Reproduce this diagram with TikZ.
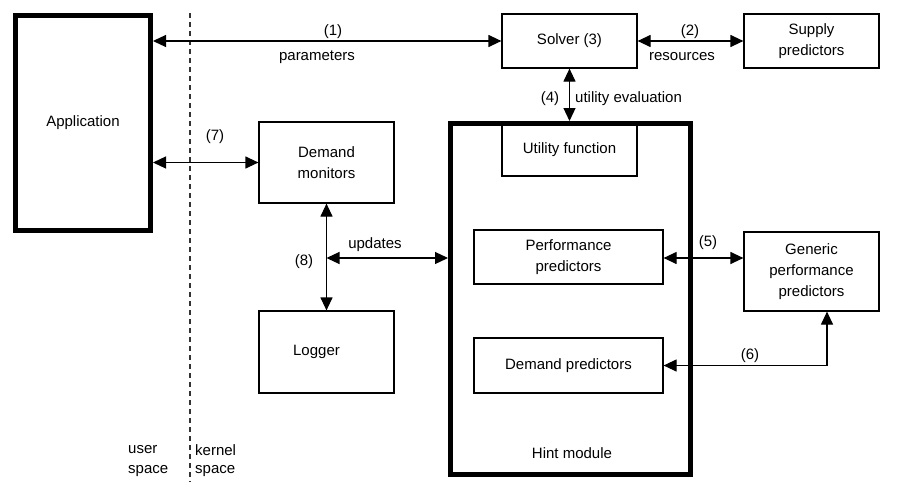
\documentclass[tikz,border=0pt]{standalone}
\usepackage{fontspec}
\setmainfont{Liberation Sans}
\usetikzlibrary{arrows.meta,calc}
\begin{document}
\begin{tikzpicture}[x=1pt,y=-1pt,
  font=\fontsize{15}{21}\selectfont,
  box/.style={draw=black,line width=1.2pt,rectangle,inner sep=0pt,align=center},
  bigbox/.style={draw=black,line width=5pt,rectangle,inner sep=0pt,align=center},
  link/.style={line width=1.2pt,{Triangle[length=13pt,width=12pt]}-{Triangle[length=13pt,width=12pt]}},
  lbl/.style={inner sep=0pt}]
\useasboundingbox (0,0) rectangle (897,482);

% user / kernel boundary
\draw[black!80,line width=1.2pt,dash pattern=on 5pt off 4pt] (190,13) -- (190,482);
\node[lbl,anchor=west] (u1) at (128,450) {user};
\node[lbl,anchor=west] (u2) at (128,471) {space};
\node[lbl,anchor=west] (k1) at (195,450) {kernel};
\node[lbl,anchor=west] (k2) at (195,471) {space};

% boxes
\node[bigbox,minimum width=135pt,minimum height=215pt] (app) at (83,123) {Application};
\node[box,minimum width=135pt,minimum height=54pt] (solver) at (569.5,41) {Solver (3)};
\node[box,minimum width=135pt,minimum height=54pt] (supply) at (811.5,41) {Supply\\predictors};
\node[box,minimum width=135pt,minimum height=81pt] (dm) at (326.5,162.5) {Demand\\monitors};
\node[box,minimum width=135pt,minimum height=82pt] (logger) at (326.5,352) {Logger\hspace*{20pt}};
\node[box,minimum width=135pt,minimum height=52pt] (util) at (569.5,150) {Utility function};
\node[bigbox,minimum width=240pt,minimum height=351pt] (hint) at (570.5,299) {};
\node[lbl] (hintlbl) at (572,453) {Hint module};
\node[box,minimum width=189pt,minimum height=54pt] (perf) at (568.5,257) {Performance\\predictors};
\node[box,minimum width=189pt,minimum height=55pt] (dpred) at (568.5,365.5) {Demand predictors};
\node[box,minimum width=135pt,minimum height=79pt] (gen) at (811.5,271.5) {Generic\\performance\\predictors};

% connectors
\draw[link] (app.east |- solver.west) -- (solver.west);
\node[lbl] (l1) at (333,32) {(1)};
\node[lbl] (lpar) at (317,57) {parameters};

\draw[link] (solver.east) -- (supply.west);
\node[lbl] (l2) at (690,32) {(2)};
\node[lbl] (lres) at (682,57) {resources};

\draw[link] (solver.south) -- (solver.south |- hint.north);
\node[lbl] (l4) at (550,99) {(4)};
\node[lbl,anchor=west] (lutil) at (575,99) {utility evaluation};

\draw[link] (app.east |- dm.west) -- (dm.west);
\node[lbl] (l7) at (215,137) {(7)};

\draw[link] (dm.south) -- (logger.north);
\node[lbl] (l8) at (304,262) {(8)};
\coordinate (upd) at (326.5,258);
\draw[link] (upd) -- (upd -| hint.west);
\node[lbl] (lupd) at (375,245) {updates};

\draw[link] (perf.east |- 0,258) -- (gen.west |- 0,258);
\node[lbl] (l5) at (708,243) {(5)};

\coordinate (gdown) at ($(gen.south)+(15.5,0)$);
\draw[link] (gdown) |- (dpred.east);
\node[lbl] (l6) at (750,356) {(6)};
\end{tikzpicture}
\end{document}
